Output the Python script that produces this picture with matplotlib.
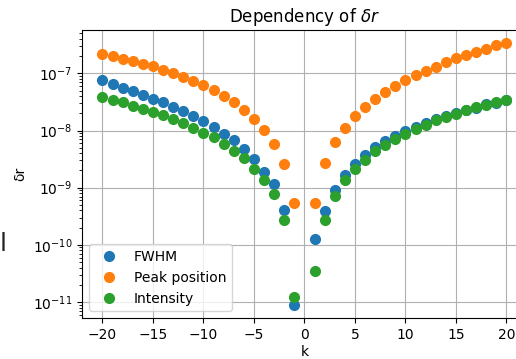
import numpy as np
import matplotlib
matplotlib.use("Agg")
import matplotlib.pyplot as plt

# k values (no point at k=0)
k = [i for i in range(-20, 21) if i != 0]

# values, k = -20..-1, 1..20
fwhm = [7.5e-8, 6.5e-8, 5.6e-8, 4.9e-8, 4.2e-8, 3.6e-8, 3.1e-8, 2.6e-8, 2.2e-8, 1.78e-8,
        1.45e-8, 1.14e-8, 8.8e-9, 6.7e-9, 4.7e-9, 3.15e-9, 1.9e-9, 1.15e-9, 4.1e-10, 8.9e-12,
        1.25e-10, 3.9e-10, 9.1e-10, 1.66e-9, 2.58e-9, 3.71e-9, 5.05e-9, 6.43e-9, 8.05e-9, 9.72e-9,
        1.16e-8, 1.36e-8, 1.57e-8, 1.8e-8, 2.0e-8, 2.29e-8, 2.52e-8, 2.88e-8, 3.08e-8, 3.42e-8]
peak = [2.2e-7, 2.0e-7, 1.8e-7, 1.64e-7, 1.47e-7, 1.32e-7, 1.16e-7, 1.01e-7, 8.6e-8, 7.3e-8,
        6.2e-8, 5.1e-8, 4.0e-8, 3.1e-8, 2.3e-8, 1.62e-8, 1.04e-8, 5.85e-9, 2.6e-9, 5.3e-10,
        5.5e-10, 2.7e-9, 6.25e-9, 1.1e-8, 1.78e-8, 2.58e-8, 3.56e-8, 4.72e-8, 6.0e-8, 7.55e-8,
        9.2e-8, 1.11e-7, 1.31e-7, 1.56e-7, 1.83e-7, 2.12e-7, 2.39e-7, 2.7e-7, 3.08e-7, 3.38e-7]
intensity = [3.8e-8, 3.4e-8, 3.1e-8, 2.73e-8, 2.4e-8, 2.1e-8, 1.83e-8, 1.57e-8, 1.34e-8, 1.11e-8,
             9.2e-9, 7.55e-9, 5.8e-9, 4.4e-9, 3.3e-9, 2.1e-9, 1.37e-9, 7.9e-10, 2.7e-10, 1.23e-11,
             3.5e-11, 2.7e-10, 7.2e-10, 1.34e-9, 2.11e-9, 3.07e-9, 4.3e-9, 5.53e-9, 7.24e-9, 8.72e-9,
             1.05e-8, 1.27e-8, 1.53e-8, 1.73e-8, 1.95e-8, 2.26e-8, 2.55e-8, 2.84e-8, 3.12e-8, 3.38e-8]

fig = plt.figure(figsize=(5.16, 3.59), dpi=100)
# axes runs past the right edge like in the reference
ax = fig.add_axes([82.2/516, 41/359, 444.4/516, 288/359])

ax.plot(k, fwhm, 'o', ms=7, label='FWHM')
ax.plot(k, peak, 'o', ms=7, label='Peak position')
ax.plot(k, intensity, 'o', ms=7, label='Intensity')

ax.set_yscale('log')
ax.set_xticks([-20, -15, -10, -5, 0, 5, 10, 15, 20])
ax.grid(True)
ax.set_title(r'Dependency of $\delta r$')
ax.set_xlabel('k', labelpad=2)
ax.set_ylabel('δr')
ax.legend(loc='lower left')

fig.text(0.0, 0.30, 'l', fontsize=18, color='#222222')

fig.savefig('out.png', dpi=100)
